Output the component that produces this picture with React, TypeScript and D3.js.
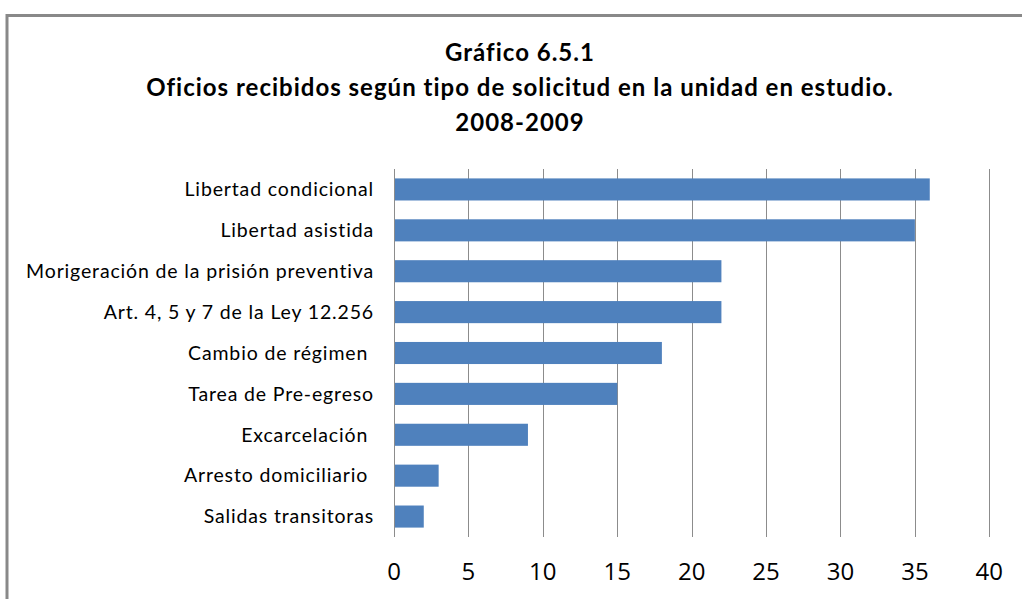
import { useRef, useEffect } from 'react';
import * as d3 from 'd3';

// Gráfico 6.5.1 — oficios recibidos según tipo de solicitud
const categories = [
  'Libertad condicional',
  'Libertad asistida',
  'Morigeración de la prisión preventiva',
  'Art. 4, 5 y 7 de la Ley 12.256',
  'Cambio de régimen ',
  'Tarea de Pre-egreso',
  'Excarcelación ',
  'Arresto domiciliario ',
  'Salidas transitoras',
];
const values = [36, 35, 22, 22, 18, 15, 9, 3, 2];
const xTicks = [0, 5, 10, 15, 20, 25, 30, 35, 40];
const titleLines = [
  'Gráfico 6.5.1',
  'Oficios recibidos según tipo de solicitud en la unidad en estudio.',
  '2008-2009',
];

const WIDTH = 1022;
const HEIGHT = 599;
const PLOT = { left: 394, right: 989.3, top: 169, bottom: 537 };
const LABEL_FONT = 'Lato, "Open Sans", sans-serif';

export default function App() {
  const svgRef = useRef<SVGSVGElement>(null);

  useEffect(() => {
    if (!svgRef.current) return;
    const svg = d3.select(svgRef.current);
    svg.selectAll('*').remove();

    // chart frame (only left and top edges show in the crop)
    svg.append('path')
      .attr('d', `M7,${HEIGHT + 5} V15.5 H${WIDTH + 5}`)
      .attr('fill', 'none')
      .attr('stroke', '#898989')
      .attr('stroke-width', 3);

    // title
    const title = svg.append('text')
      .attr('x', 520)
      .attr('text-anchor', 'middle')
      .attr('font-family', LABEL_FONT)
      .attr('font-weight', 'bold')
      .attr('font-size', 24)
      .attr('letter-spacing', 1)
      .attr('fill', '#000');
    titleLines.forEach((t, i) => {
      title.append('tspan')
        .attr('x', 520)
        .attr('y', 61 + i * 35)
        .text(t);
    });

    const x = d3.scaleLinear().domain([0, 40]).range([PLOT.left, PLOT.right]);
    const y = d3.scaleBand<string>()
      .domain(categories)
      .range([PLOT.top, PLOT.bottom])
      .paddingInner(0.46)
      .paddingOuter(0.23);

    // vertical gridlines
    svg.append('g')
      .selectAll('line')
      .data(xTicks)
      .join('line')
      .attr('x1', (d) => Math.round(x(d)) + 0.5)
      .attr('x2', (d) => Math.round(x(d)) + 0.5)
      .attr('y1', PLOT.top)
      .attr('y2', PLOT.bottom)
      .attr('stroke', '#8c8c8c')
      .attr('stroke-width', 1);

    // bars
    svg.append('g')
      .selectAll('rect')
      .data(values)
      .join('rect')
      .attr('x', x(0) + 1)
      .attr('y', (_, i) => y(categories[i])!)
      .attr('width', (d) => x(d) - x(0) - 1)
      .attr('height', y.bandwidth())
      .attr('fill', '#4f81bd');

    // category labels
    svg.append('g')
      .selectAll('text')
      .data(categories)
      .join('text')
      .attr('x', 374)
      .attr('y', (d) => y(d)! + y.bandwidth() / 2)
      .attr('dy', '0.35em')
      .attr('text-anchor', 'end')
      .attr('xml:space', 'preserve')
      .style('white-space', 'pre')
      .attr('font-family', LABEL_FONT)
      .attr('font-size', 19.5)
      .attr('letter-spacing', 0.85)
      .attr('fill', '#000')
      .text((d) => d);

    // x tick labels
    svg.append('g')
      .selectAll('text')
      .data(xTicks)
      .join('text')
      .attr('x', (d) => x(d))
      .attr('y', 572)
      .attr('dy', '0.35em')
      .attr('text-anchor', 'middle')
      .attr('font-family', '"Open Sans", sans-serif')
      .attr('font-size', 24)
      .attr('fill', '#000')
      .text((d) => d);
  }, []);

  return (
    <div>
      <style>{'body{margin:0}'}</style>
      <svg ref={svgRef} width={WIDTH} height={HEIGHT} style={{ display: 'block', background: '#fff' }} />
    </div>
  );
}
